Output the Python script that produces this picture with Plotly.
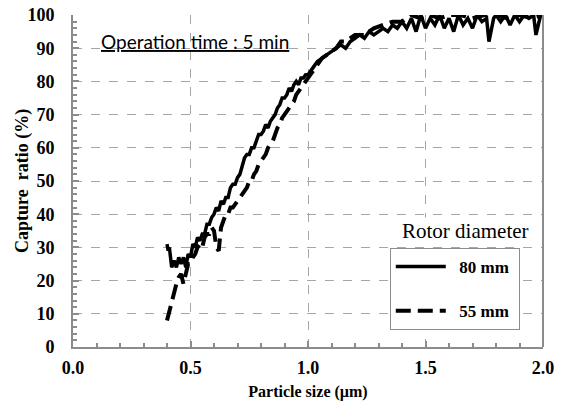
import plotly.graph_objects as go

# 80 mm rotor (solid)
x80 = [0.400, 0.405, 0.410, 0.415, 0.42, 0.43, 0.44, 0.45, 0.46, 0.47, 0.48, 0.49, 0.50, 0.51, 0.52, 0.53,
       0.54, 0.55, 0.56, 0.57, 0.58, 0.59, 0.60, 0.61, 0.62, 0.63, 0.64, 0.65, 0.66, 0.67, 0.68, 0.69,
       0.70, 0.71, 0.72, 0.73, 0.74, 0.75, 0.76, 0.77, 0.78, 0.79, 0.80, 0.81, 0.82, 0.83, 0.84, 0.85,
       0.86, 0.87, 0.88, 0.89, 0.90, 0.91, 0.92, 0.93, 0.94, 0.95, 0.96, 0.97, 0.98, 0.99, 1.00, 1.02,
       1.04, 1.06, 1.08, 1.10, 1.12, 1.14, 1.16, 1.18, 1.20, 1.22, 1.24, 1.26, 1.28, 1.30, 1.32, 1.34,
       1.36, 1.38, 1.40, 1.42, 1.44, 1.46, 1.48, 1.50, 1.52, 1.54, 1.56, 1.58, 1.60, 1.62, 1.64, 1.66,
       1.68, 1.70, 1.72, 1.74, 1.76, 1.77, 1.79, 1.80, 1.82, 1.84, 1.86, 1.88, 1.90, 1.92, 1.94, 1.96,
       1.97, 1.99, 2.00]
y80 = [31, 29, 30, 26, 24, 26, 24, 27, 25, 27, 24, 28, 27, 31, 30, 33,
       32, 34, 34, 37, 37, 39, 40, 42, 41, 44, 43, 45, 45, 48, 49, 49,
       51, 52, 55, 57, 58, 58, 60, 60, 62, 64, 64, 65, 67, 66, 68, 69,
       70, 72, 73, 75, 75, 76, 78, 77, 79, 80, 79, 81, 81, 82, 82, 84,
       86, 87, 88, 89, 90, 91, 90, 92, 93, 94, 93, 95, 94, 95, 96, 95,
       97, 96, 98, 96, 99, 95, 100, 96, 99, 97, 100, 96, 99, 95, 100, 97,
       99, 96, 100, 98, 99, 92, 99, 100, 98, 100, 97, 100, 98, 100, 99, 100,
       94, 100, 100]

# 55 mm rotor (dashed)
x55 = [0.40, 0.41, 0.42, 0.43, 0.44, 0.45, 0.46, 0.47, 0.48, 0.49, 0.50, 0.51, 0.52, 0.53, 0.54, 0.55,
       0.56, 0.57, 0.58, 0.59, 0.60, 0.61, 0.62, 0.63, 0.64, 0.65, 0.66, 0.67, 0.68, 0.69, 0.70, 0.71,
       0.72, 0.73, 0.74, 0.75, 0.76, 0.77, 0.78, 0.79, 0.80, 0.81, 0.82, 0.83, 0.84, 0.85, 0.86, 0.87,
       0.88, 0.89, 0.90, 0.91, 0.92, 0.93, 0.94, 0.95, 0.96, 0.97, 0.98, 1.00, 1.02, 1.04, 1.06, 1.08,
       1.10, 1.12, 1.14, 1.16, 1.18, 1.20, 1.24, 1.28, 1.32, 1.36, 1.40, 1.44, 1.48, 1.52, 1.56, 1.60,
       1.65, 1.70, 1.75, 1.80, 1.85, 1.90, 1.95, 2.00]
y55 = [8, 11, 14, 16, 19, 21, 22, 19, 22, 25, 25, 27, 28, 30, 31, 30,
       33, 34, 34, 36, 35, 30, 29, 36, 38, 40, 40, 42, 42, 43, 44, 45,
       46, 47, 48, 50, 50, 52, 53, 55, 56, 57, 58, 60, 61, 62, 64, 66,
       67, 69, 70, 71, 72, 73, 74, 76, 77, 78, 79, 81, 83, 85, 87, 88,
       89, 90, 92, 92, 93, 94, 94, 96, 97, 98, 98, 100, 99, 100, 99, 100,
       100, 99, 100, 100, 99, 100, 99, 100]

x_ticks = [0.0, 0.5, 1.0, 1.5, 2.0]
y_ticks = [0, 10, 20, 30, 40, 50, 60, 70, 80, 90, 100]

serif = "Liberation Serif"
nb = "\u00a0"

fig = go.Figure()
fig.add_trace(go.Scatter(x=x80, y=y80, mode="lines", name=nb * 2 + "<b>80 mm</b>" + nb, legendgroup="a",
                         line=dict(color="black", width=3.5)))
fig.add_trace(go.Scatter(x=x55, y=y55, mode="lines", name=nb * 2 + "<b>55 mm</b>" + nb, legendgroup="b",
                         line=dict(color="black", width=4, dash="15px,7px")))

axis_common = dict(
    showline=True, linecolor="#8c8c8c", linewidth=2,
    showgrid=True, gridcolor="#a6a6a6", griddash="dash", gridwidth=1,
    ticks="inside", ticklen=6, tickcolor="#8c8c8c", tickwidth=1.5,
    tickfont=dict(family=serif, size=18, color="black", weight="bold"),
    zeroline=False, automargin=False,
)

fig.update_layout(
    width=562, height=401,
    margin=dict(l=73, r=19, t=15, b=54),
    plot_bgcolor="white", paper_bgcolor="white",
    showlegend=True,
    legend=dict(x=0.674, y=0.298, xanchor="left", yanchor="top",
                bgcolor="white", bordercolor="#8c8c8c", borderwidth=1,
                font=dict(family=serif, size=17, color="black"),
                tracegroupgap=19, traceorder="grouped", itemwidth=50),
    xaxis=dict(range=[0, 2], tickvals=x_ticks, ticktext=[f"{v:.1f}" for v in x_ticks],
               minor=dict(dtick=0.1, ticks="inside", ticklen=4, tickcolor="#8c8c8c", showgrid=False),
               ticklabelstandoff=3,
               title=dict(text="<b>Particle size (µm)</b>", font=dict(family=serif, size=16, color="black"),
                          standoff=9),
               **axis_common),
    yaxis=dict(range=[0, 100], tickvals=y_ticks,
               minor=dict(dtick=2, ticks="inside", ticklen=4, tickcolor="#8c8c8c", showgrid=False),
               ticklabelstandoff=13,
               **axis_common),
    shapes=[dict(type="line", xref="paper", yref="paper", x0=1, x1=1, y0=0, y1=1,
                 line=dict(color="#8c8c8c", width=2))],
    annotations=[
        dict(text="<b>Capture  ratio (%)</b>", xref="paper", yref="paper", x=-0.1085, y=0.5,
             xanchor="center", yanchor="middle", textangle=-90,
             showarrow=False, font=dict(family=serif, size=18, color="black")),
        dict(text="<u>Operation time : 5 min</u>", xref="paper", yref="paper", x=0.26, y=0.92,
             xanchor="center", yanchor="middle",
             showarrow=False, font=dict(family="Lato", size=19, color="black")),
        dict(text="Rotor diameter", xref="paper", yref="paper", x=0.975, y=0.35,
             xanchor="right", yanchor="middle",
             showarrow=False, font=dict(family=serif, size=21, color="black"), bgcolor="white"),
    ],
)

fig.write_html("out.html")
